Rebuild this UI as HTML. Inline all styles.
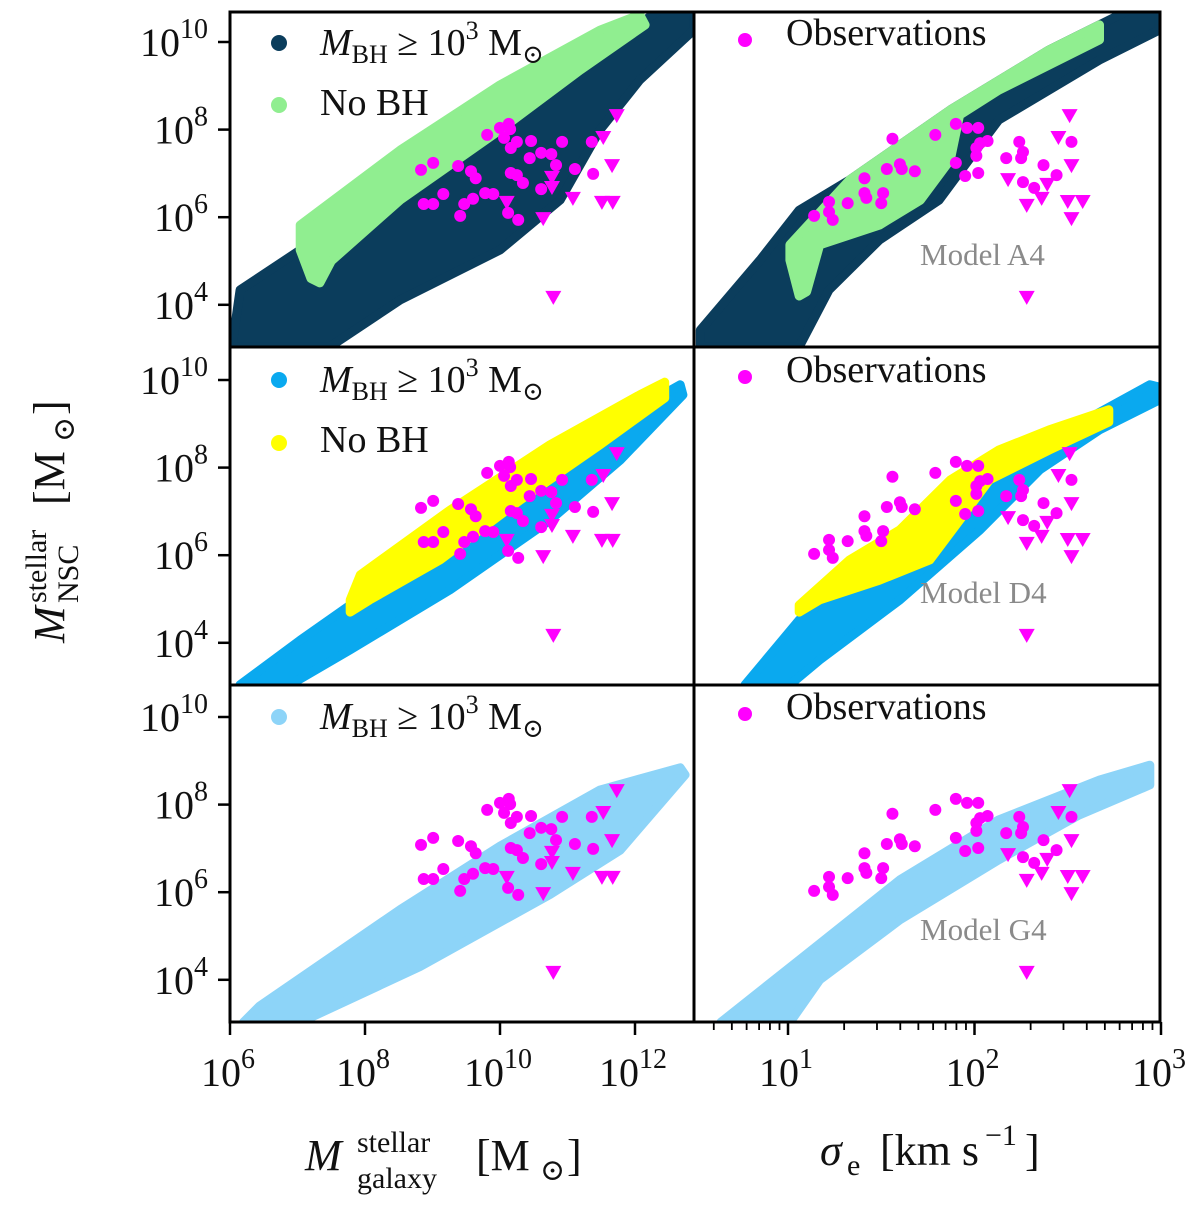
<!DOCTYPE html>
<html><head><meta charset="utf-8"><style>
html,body{margin:0;padding:0;background:#fff}
svg{display:block}
text{font-family:"Liberation Serif","DejaVu Serif",serif;fill:#111}
</style></head><body>
<svg id="chart" width="1200" height="1209" viewBox="0 0 1200 1209" xmlns="http://www.w3.org/2000/svg"></svg>
<script>
// ---- data (log10 values) ----
const xTicksLeft = [6, 8, 10, 12];
const xTicksRight = [1, 2, 3];
const yTicks = [4, 6, 8, 10];
// observations: galaxy mass panel
const obsDotGalX = [8.83,9.01,9.38,9.57,9.64,9.81,10.0,10.13,10.15,10.06,10.25,10.16,10.46,10.44,10.61,10.76,10.83,10.92,11.36,11.11,11.38,10.16,10.25,10.34,10.61,8.87,9.01,9.16,9.47,9.6,9.78,9.9,9.41,10.12,10.27];
const obsDotGalY = [7.08,7.24,7.17,7.05,6.89,7.88,8.04,8.13,8.01,7.81,7.72,7.58,7.74,7.35,7.47,7.44,7.19,7.72,7.72,7.10,6.99,7.01,6.96,6.78,6.64,6.30,6.30,6.53,6.30,6.42,6.55,6.53,6.03,6.10,5.94];
const obsTriGalX = [11.73,11.53,11.66,10.77,10.77,10.10,11.08,11.51,11.67,10.64,10.79];
const obsTriGalY = [8.33,7.83,7.19,6.92,6.69,6.35,6.44,6.35,6.35,5.98,4.18];
// observations: sigma panel
const obsDotSigX = [1.14,1.22,1.22,1.24,1.32,1.41,1.41,1.42,1.50,1.51,1.53,1.60,1.61,1.68,1.56,1.79,1.90,1.96,2.02,1.90,1.95,2.02,2.01,2.03,2.07,2.01,2.17,2.24,2.26,2.25,2.26,2.32,2.37,2.44,2.52];
const obsDotSigY = [6.03,6.35,6.12,5.94,6.32,6.89,6.55,6.44,6.32,6.55,7.10,7.21,7.10,7.05,7.79,7.88,8.13,8.04,8.04,7.24,6.94,7.01,7.58,7.69,7.74,7.40,7.35,7.72,7.49,7.35,6.80,6.67,7.19,6.96,7.72];
const obsTriSigX = [2.51,2.45,2.52,2.18,2.39,2.28,2.36,2.50,2.58,2.52,2.28];
const obsTriSigY = [8.33,7.83,7.19,6.87,6.76,6.28,6.44,6.37,6.37,5.98,4.18];
// model clouds (outline in log data units)
const cloudA4GalBH = [[6.03,3.04],[6.15,4.34],[7.04,5.25],[8.52,6.85],[10.0,8.45],[11.48,9.82],[12.37,10.73],[12.87,10.73],[12.87,10.27],[12.07,9.13],[11.48,7.99],[10.89,6.39],[10.0,5.25],[8.52,4.11],[7.48,3.04]];
const cloudA4GalNo = [[7.04,5.82],[8.52,7.53],[10.0,9.02],[11.48,10.27],[12.07,10.62],[12.15,10.39],[11.19,9.36],[10.0,7.99],[9.26,7.19],[8.52,6.39],[7.5,5.0],[7.33,4.5],[7.2,4.6],[7.04,5.25]];
const cloudA4SigBH = [[0.53,3.04],[0.53,3.42],[0.85,5.02],[1.06,6.16],[1.33,6.85],[1.87,8.45],[2.40,9.82],[2.83,10.73],[2.99,10.73],[2.99,10.27],[2.67,9.59],[2.13,8.22],[1.97,7.31],[1.81,6.39],[1.49,5.48],[1.22,4.34],[1.06,3.04]];
const cloudA4SigNo = [[1.01,5.37],[1.33,6.85],[1.87,8.45],[2.40,9.82],[2.67,10.39],[2.67,10.05],[2.13,8.90],[1.92,8.33],[1.87,7.31],[1.71,6.39],[1.49,5.82],[1.17,5.37],[1.1,4.3],[1.06,4.2],[1.01,5.02]];
const cloudD4GalBH = [[6.15,3.04],[7.04,4.06],[8.52,5.66],[10.0,7.49],[11.48,8.86],[12.67,9.89],[12.71,9.66],[11.78,8.17],[10.74,6.80],[9.26,5.21],[7.78,3.84],[6.89,3.04]];
const cloudD4GalNo = [[7.78,4.98],[7.93,5.55],[9.26,7.03],[10.74,8.52],[12.07,9.66],[12.44,9.95],[12.44,9.59],[11.48,8.52],[10.30,7.26],[9.11,5.89],[8.07,4.98],[7.78,4.70]];
const cloudD4SigBH = [[0.77,3.04],[1.06,4.52],[1.33,5.43],[1.87,7.37],[2.40,8.63],[2.94,9.89],[2.99,9.84],[2.99,9.54],[2.67,8.86],[2.35,7.95],[2.03,6.58],[1.60,4.98],[1.17,3.61],[1.01,3.04]];
const cloudD4SigNo = [[1.06,4.86],[1.33,5.89],[1.60,6.58],[1.87,7.72],[2.13,8.40],[2.40,8.86],[2.72,9.32],[2.72,9.04],[2.40,8.40],[2.08,7.72],[1.92,6.80],[1.76,5.89],[1.49,5.43],[1.17,4.98],[1.06,4.70]];
const cloudG4GalBH = [[6.20,3.03],[6.44,3.40],[8.52,5.60],[10.0,7.05],[11.48,8.33],[12.67,8.84],[12.74,8.68],[11.78,6.96],[10.74,5.95],[8.81,4.30],[7.04,3.03]];
const cloudG4SigBH = [[0.64,3.03],[1.06,4.45],[1.60,6.28],[2.13,7.65],[2.67,8.56],[2.94,8.90],[2.94,8.45],[2.56,7.76],[2.13,6.74],[1.60,5.37],[1.17,4.0],[1.01,3.03]];

// ---- layout ----
const NS='http://www.w3.org/2000/svg';
const svg=document.getElementById('chart');
const L0=230,L1=694,R1=1160;
const rows=[{top:12,bot:347,y10:42},{top:347,bot:685,y10:380},{top:685,bot:1022,y10:717}];
const PPD=43.8;
function xL(v){return 230+(v-6)*67.5;}
function xR(v){return 788+(v-1)*186.5;}
function yS(row,v){return rows[row].y10-(v-10)*PPD;}
function mk(tag,attrs,parent){const e=document.createElementNS(NS,tag);for(const k in attrs)e.setAttribute(k,attrs[k]);(parent||svg).appendChild(e);return e;}

const defs=mk('defs',{});
const panels=[
 {row:0,side:'L',clouds:[[cloudA4GalBH,'#0b3d5c'],[cloudA4GalNo,'#90ee90']],name:'panel-a4-galaxy'},
 {row:0,side:'R',clouds:[[cloudA4SigBH,'#0b3d5c'],[cloudA4SigNo,'#90ee90']],name:'panel-a4-sigma',model:'Model A4'},
 {row:1,side:'L',clouds:[[cloudD4GalBH,'#0aa9ef'],[cloudD4GalNo,'#ffff00']],name:'panel-d4-galaxy'},
 {row:1,side:'R',clouds:[[cloudD4SigBH,'#0aa9ef'],[cloudD4SigNo,'#ffff00']],name:'panel-d4-sigma',model:'Model D4'},
 {row:2,side:'L',clouds:[[cloudG4GalBH,'#8dd4f8']],name:'panel-g4-galaxy'},
 {row:2,side:'R',clouds:[[cloudG4SigBH,'#8dd4f8']],name:'panel-g4-sigma',model:'Model G4'}
];
panels.forEach((p,i)=>{
  const r=rows[p.row];
  const x0=p.side==='L'?L0:L1, x1=p.side==='L'?L1:R1;
  const fx=p.side==='L'?xL:xR;
  const cp=mk('clipPath',{id:'cp'+i},defs);
  mk('rect',{x:x0,y:r.top,width:x1-x0,height:r.bot-r.top},cp);
  const g=mk('g',{'clip-path':'url(#cp'+i+')'});
  
  
  p.clouds.forEach((c,ci)=>{
    const pts=c[0].map(q=>fx(q[0]).toFixed(1)+','+yS(p.row,q[1]).toFixed(1)).join(' ');
    const poly=mk('polygon',{points:pts,fill:c[1],stroke:c[1],'stroke-width':9,'stroke-linejoin':'round'},g);
    
    
  });
  if(p.model){
    const t=mk('text',{x:920,y:r.y10+223,'font-size':31,style:'fill:#8a8a8a'},g);
    t.textContent=p.model;
    
    
  }
  const dx=p.side==='L'?obsDotGalX:obsDotSigX, dy=p.side==='L'?obsDotGalY:obsDotSigY;
  const tx=p.side==='L'?obsTriGalX:obsTriSigX, ty=p.side==='L'?obsTriGalY:obsTriSigY;
  dx.forEach((v,k)=>{
    const c=mk('circle',{cx:fx(v),cy:yS(p.row,dy[k]),r:6,fill:'#ff00ff'},g);
    
    
  });
  tx.forEach((v,k)=>{
    const X=fx(v),Y=yS(p.row,ty[k]);
    const t=mk('polygon',{points:`${X-8},${Y-6} ${X+8},${Y-6} ${X},${Y+8}`,fill:'#ff00ff'},g);
    
    
  });
  const fr=mk('rect',{x:x0,y:r.top,width:x1-x0,height:r.bot-r.top,fill:'none',stroke:'#000','stroke-width':3});
  
  
});

// y ticks + labels
rows.forEach((r,ri)=>{
  yTicks.forEach(v=>{
    const y=yS(ri,v);
    mk('line',{x1:218,x2:230,y1:y,y2:y,stroke:'#000','stroke-width':2.5});
    const t=mk('text',{x:208,y:y+14,'font-size':40,'text-anchor':'end'});
    t.innerHTML='10<tspan dy="-18" font-size="28">'+v+'</tspan>';
    
    
  });
});
// x ticks
const yb=1022;
xTicksLeft.forEach(v=>{
  const x=xL(v);
  mk('line',{x1:x,x2:x,y1:yb,y2:yb+13,stroke:'#000','stroke-width':2.5});
  const t=mk('text',{x:x-2,y:yb+64,'font-size':40,'text-anchor':'middle'});
  t.innerHTML='10<tspan dy="-18" font-size="28">'+v+'</tspan>';
  
  
});
for(let d=0;d<=2;d++){for(let m=1;m<=9;m++){
  const v=d+Math.log10(m); if(v<0.5||v>3)continue;
  const x=xR(v);
  mk('line',{x1:x,x2:x,y1:yb,y2:yb+(m===1?13:8),stroke:'#000','stroke-width':m===1?2.5:1.8});
}}
mk('line',{x1:xR(3),x2:xR(3),y1:yb,y2:yb+13,stroke:'#000','stroke-width':2.5});
xTicksRight.forEach(v=>{
  const x=xR(v);
  const t=mk('text',{x:x-2,y:yb+64,'font-size':40,'text-anchor':'middle'});
  t.innerHTML='10<tspan dy="-18" font-size="28">'+v+'</tspan>';
  
  
});
</script>
<svg style="position:absolute;left:0;top:0" width="1200" height="1209">
 <g>
  <circle cx="279" cy="43" r="8" fill="#0b3d5c"/>
  <text x="320" y="55" font-size="38"><tspan font-style="italic">M</tspan><tspan font-size="26" dy="8">BH</tspan><tspan dy="-8"> ≥ 10</tspan><tspan font-size="26" dy="-16">3</tspan><tspan dy="16"> M</tspan><tspan font-size="26" dy="8">⊙</tspan></text>
  <circle cx="279" cy="105" r="8" fill="#90ee90"/>
  <text x="320" y="115" font-size="38">No BH</text>
 </g>
 <g>
  <circle cx="745" cy="40" r="7" fill="#ff00ff"/>
  <text x="786" y="45" font-size="38">Observations</text>
 </g>
 <g>
  <circle cx="279" cy="380" r="8" fill="#0aa9ef"/>
  <text x="320" y="392" font-size="38"><tspan font-style="italic">M</tspan><tspan font-size="26" dy="8">BH</tspan><tspan dy="-8"> ≥ 10</tspan><tspan font-size="26" dy="-16">3</tspan><tspan dy="16"> M</tspan><tspan font-size="26" dy="8">⊙</tspan></text>
  <circle cx="279" cy="443" r="8" fill="#ffff00"/>
  <text x="320" y="452" font-size="38">No BH</text>
 </g>
 <g>
  <circle cx="745" cy="377" r="7" fill="#ff00ff"/>
  <text x="786" y="382" font-size="38">Observations</text>
 </g>
 <g>
  <circle cx="279" cy="717" r="8" fill="#8dd4f8"/>
  <text x="320" y="729" font-size="38"><tspan font-style="italic">M</tspan><tspan font-size="26" dy="8">BH</tspan><tspan dy="-8"> ≥ 10</tspan><tspan font-size="26" dy="-16">3</tspan><tspan dy="16"> M</tspan><tspan font-size="26" dy="8">⊙</tspan></text>
 </g>
 <g>
  <circle cx="745" cy="714" r="7" fill="#ff00ff"/>
  <text x="786" y="719" font-size="38">Observations</text>
 </g>
 <g transform="translate(64,515) rotate(-90)">
  <text x="-128" y="0" font-size="44" font-style="italic">M</text>
  <text x="-88" y="-18" font-size="30">stellar</text>
  <text x="-88" y="14" font-size="30">NSC</text>
  <text x="10" y="0" font-size="44">[M</text>
  <text x="73" y="10" font-size="30">⊙</text>
  <text x="100" y="0" font-size="44">]</text>
 </g>
 <g>
  <text x="305" y="1170" font-size="44" font-style="italic">M</text>
  <text x="357" y="1152" font-size="30">stellar</text>
  <text x="357" y="1188" font-size="30">galaxy</text>
  <text x="476" y="1170" font-size="44">[M</text>
  <text x="540" y="1180" font-size="30">⊙</text>
  <text x="567" y="1170" font-size="44">]</text>
 </g>
 <g>
  <text x="820" y="1165" font-size="44" font-style="italic">σ</text>
  <text x="847" y="1175" font-size="30">e</text>
  <text x="880" y="1165" font-size="44">[km s</text>
  <text x="985" y="1145" font-size="30">−1</text>
  <text x="1025" y="1165" font-size="44">]</text>
 </g>
</svg>
</body></html>
